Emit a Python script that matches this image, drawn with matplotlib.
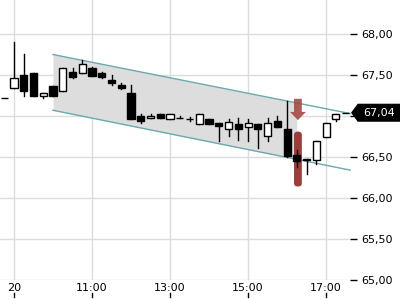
import numpy as np
import matplotlib
matplotlib.use('Agg')
import matplotlib.pyplot as plt
import matplotlib.transforms as mtransforms
from matplotlib.patches import Rectangle, Polygon, FancyBboxPatch

# 15 minute candles, first one is the previous day's close
times = ['08:45', '09:00', '09:15', '09:30', '09:45', '10:00', '10:15', '10:30',
         '10:45', '11:00', '11:15', '11:30', '11:45', '12:00', '12:15', '12:30',
         '12:45', '13:00', '13:15', '13:30', '13:45', '14:00', '14:15', '14:30',
         '14:45', '15:00', '15:15', '15:30', '15:45', '16:00', '16:15', '16:30',
         '16:45', '17:00', '17:15', '17:30']
opens  = [67.22, 67.34, 67.50, 67.53, 67.25, 67.37, 67.30, 67.54, 67.53, 67.59,
          67.52, 67.44, 67.38, 67.28, 67.00, 66.97, 67.02, 66.96, 66.98, 66.96,
          66.90, 66.96, 66.91, 66.84, 66.90, 66.87, 66.90, 66.76, 66.94, 66.84,
          66.52, 66.48, 66.46, 66.74, 66.96, 67.04]
highs  = [67.22, 67.90, 67.76, 67.53, 67.28, 67.37, 67.59, 67.58, 67.68, 67.60,
          67.54, 67.50, 67.40, 67.38, 67.02, 67.02, 67.02, 67.02, 67.00, 66.99,
          67.03, 66.96, 66.91, 66.96, 66.97, 66.96, 66.90, 66.97, 67.00, 67.18,
          66.59, 66.48, 66.70, 66.91, 67.02, 67.04]
lows   = [67.22, 67.34, 67.24, 67.25, 67.22, 67.24, 67.30, 67.46, 67.53, 67.49,
          67.46, 67.38, 67.33, 66.96, 66.91, 66.97, 66.97, 66.96, 66.98, 66.94,
          66.90, 66.90, 66.70, 66.76, 66.71, 66.69, 66.61, 66.70, 66.86, 66.50,
          66.38, 66.29, 66.42, 66.74, 66.94, 67.04]
closes = [67.22, 67.46, 67.30, 67.25, 67.28, 67.24, 67.59, 67.48, 67.64, 67.49,
          67.48, 67.40, 67.34, 66.96, 66.94, 67.00, 66.97, 67.02, 66.98, 66.96,
          67.03, 66.90, 66.88, 66.93, 66.84, 66.91, 66.84, 66.91, 66.86, 66.51,
          66.45, 66.46, 66.70, 66.91, 67.02, 67.04]

last_price = 67.04

# trend channel (hours, price)
chan_x     = [10.0, 17.62]
chan_upper = [67.75, 67.03]
chan_lower = [67.07, 66.34]
chan_fill_end = 16.25

# signal marker
signal_x = 16.28
arrow_top, arrow_bottom = 67.21, 66.95
bar_top, bar_bottom = 66.81, 66.14

xtick_pos    = [9, 11, 13, 15, 17]
xtick_labels = ['20', '11:00', '13:00', '15:00', '17:00']
ytick_pos    = [65.0, 65.5, 66.0, 66.5, 67.0, 67.5, 68.0]


def to_hours(t):
    h, m = t.split(':')
    return int(h) + int(m) / 60.0


def fmt_price(v):
    return ('%.2f' % v).replace('.', ',')


def draw_candles(ax, x, o, h, l, c, w=0.18):
    for xi, oi, hi, li, ci in zip(x, o, h, l, c):
        ax.plot([xi, xi], [li, hi], color='black', lw=1, zorder=4)
        bottom = min(oi, ci)
        height = abs(ci - oi)
        face = 'white' if ci >= oi else 'black'
        ax.add_patch(Rectangle((xi - w / 2, bottom), w, height, facecolor=face,
                               edgecolor='black', lw=1, zorder=5))


if __name__ == "__main__":
    x = np.array([to_hours(t) for t in times])

    fig = plt.figure(figsize=(4, 3), dpi=100)
    ax = fig.add_axes([0, 20 / 300, 350 / 400, 280 / 300])
    ax.set_xlim(8.641, 17.615)
    ax.set_ylim(65.0, 68.415)

    for s in ax.spines.values():
        s.set_visible(False)
    ax.grid(True, color='#dcdcdc', lw=1, zorder=0)
    ax.set_axisbelow(True)

    # channel
    fx = np.array([chan_x[0], chan_fill_end])
    fu = np.interp(fx, chan_x, chan_upper)
    fl = np.interp(fx, chan_x, chan_lower)
    ax.fill_between(fx, fl, fu, color='#dddddd', lw=0, zorder=1)
    ax.plot(chan_x, chan_upper, color='#6aa9ad', lw=1, zorder=2, clip_on=False)
    ax.plot(chan_x, chan_lower, color='#6aa9ad', lw=1, zorder=2, clip_on=False)

    # signal marker
    ax.add_patch(FancyBboxPatch((signal_x - 0.1, bar_bottom), 0.2, bar_top - bar_bottom,
                                boxstyle='round,pad=0,rounding_size=0.1',
                                mutation_aspect=0.4, facecolor='#9c3d38',
                                edgecolor='none', zorder=3))
    ax.arrow(signal_x, arrow_top, 0, arrow_bottom - arrow_top, width=0.2,
             head_width=0.41, head_length=0.1, length_includes_head=True,
             facecolor='#a54a43', edgecolor='none', alpha=0.9, zorder=3)

    draw_candles(ax, x, opens, highs, lows, closes)

    # axes ticks
    ax.set_xticks(xtick_pos)
    ax.set_xticklabels(xtick_labels)
    ax.tick_params(axis='x', length=0, pad=2, labelsize=8)
    trans = mtransforms.blended_transform_factory(ax.transData, ax.transAxes)
    for xp in xtick_pos:
        ax.plot([xp, xp], [-0.046, -0.062], color='black', lw=1,
                transform=trans, clip_on=False)

    # the 67,00 label sits under the last price tag
    ax.yaxis.tick_right()
    ax.set_yticks(ytick_pos)
    ax.set_yticklabels(['' if v == 67.0 else fmt_price(v) for v in ytick_pos])
    ax.tick_params(axis='y', length=5, width=1, pad=3, labelsize=8, direction='out')

    # last price tag
    trans_y = mtransforms.blended_transform_factory(ax.transAxes, ax.transData)
    tag = Polygon([(1.003, last_price), (1.022, last_price + 0.11), (1.15, last_price + 0.11),
                   (1.15, last_price - 0.11), (1.022, last_price - 0.11)],
                  closed=True, facecolor='black', edgecolor='none',
                  transform=trans_y, clip_on=False, zorder=6)
    ax.add_patch(tag)
    ax.text(1.083, last_price, fmt_price(last_price), color='white',
            fontsize=8, ha='center', va='center', transform=trans_y, zorder=7)

    fig.savefig('out.png', dpi=100)
